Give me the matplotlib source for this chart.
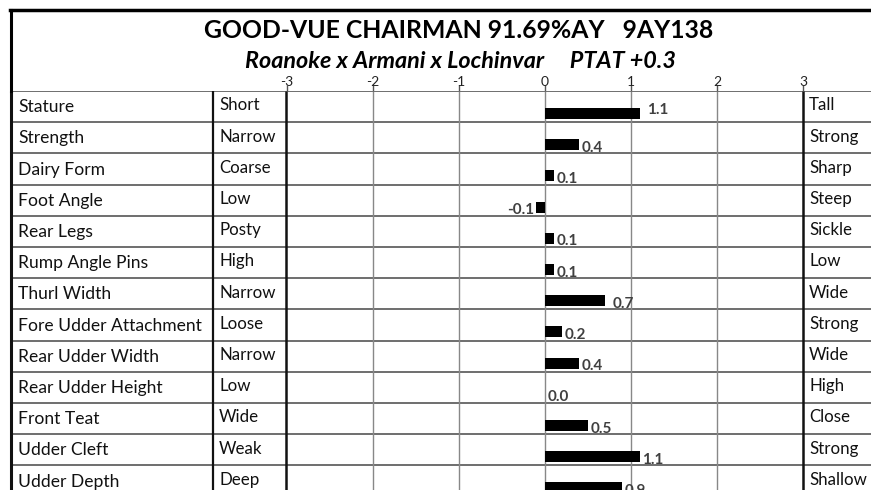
import matplotlib
matplotlib.use('Agg')
import matplotlib.pyplot as plt

plt.rcParams['font.family'] = ['Lato', 'DejaVu Sans']

# data
traits = ['Stature', 'Strength', 'Dairy Form', 'Foot Angle', 'Rear Legs',
          'Rump Angle Pins', 'Thurl Width', 'Fore Udder Attachment',
          'Rear Udder Width', 'Rear Udder Height', 'Front Teat',
          'Udder Cleft', 'Udder Depth']
low_labels = ['Short', 'Narrow', 'Coarse', 'Low', 'Posty', 'High', 'Narrow',
              'Loose', 'Narrow', 'Low', 'Wide', 'Weak', 'Deep']
high_labels = ['Tall', 'Strong', 'Sharp', 'Steep', 'Sickle', 'Low', 'Wide',
               'Strong', 'Wide', 'High', 'Close', 'Strong', 'Shallow']
values = [1.1, 0.4, 0.1, -0.1, 0.1, 0.1, 0.7, 0.2, 0.4, 0.0, 0.5, 1.1, 0.9]
ticks = [-3, -2, -1, 0, 1, 2, 3]

title = 'GOOD-VUE CHAIRMAN 91.69%AY   9AY138'
subtitle = 'Roanoke x Armani x Lochinvar     PTAT +0.3'

# layout (pixels)
W, H = 871, 490
row_top = 91
row_h = 31.2
n_vis = (H - row_top) / row_h

fig = plt.figure(figsize=(W / 100, H / 100), dpi=100)

# background table axes (x in pixels, y in rows)
bg = fig.add_axes([0, 0, 1, (H - row_top) / H])
bg.set_xlim(0, W)
bg.set_ylim(n_vis, 0)
bg.axis('off')

# chart axes
ax = fig.add_axes([287 / W, 0, 516 / W, (H - row_top) / H])
ax.set_xlim(-3, 3)
ax.set_ylim(n_vis, 0)
ax.patch.set_alpha(0)
for s in ax.spines.values():
    s.set_visible(False)
ax.xaxis.tick_top()
ax.set_xticks(ticks)
ax.set_xticklabels([str(t) for t in ticks], fontsize=10, color='#222222')
ax.tick_params(axis='x', length=4, width=1, color='#555555', pad=-2)
ax.set_yticks([])
for t in ticks[1:-1]:
    ax.axvline(t, color='#888888', lw=1, zorder=1)

# table lines
for i in range(len(traits)):
    bg.plot([10, W], [i, i], color='#555555', lw=1.2, solid_capstyle='butt')
for x, lw in [(11, 2.2), (213, 1.6), (286, 1.8), (803, 1.8)]:
    bg.plot([x, x], [0, n_vis], color='#111111', lw=lw, solid_capstyle='butt')
fig.add_artist(plt.Line2D([10 / W, 1], [1 - 10 / H, 1 - 10 / H], color='black', lw=2.5))
fig.add_artist(plt.Line2D([11 / W, 11 / W], [1 - 10 / H, 1 - row_top / H], color='black', lw=2.2))

# row texts
for i in range(len(traits)):
    yc = i + 0.52
    bg.text(18, yc, traits[i], fontsize=12.6, va='center', ha='left', color='#111111')
    bg.text(219, yc - 0.06, low_labels[i], fontsize=12.2, va='center', ha='left', color='#111111')
    bg.text(809, yc - 0.06, high_labels[i], fontsize=12.2, va='center', ha='left', color='#111111')

# bars
ypos = [i + 0.72 for i in range(len(values))]
ax.barh(ypos, values, height=0.35, color='black', zorder=3)
for i, v in enumerate(values):
    dy = -0.12 if i == 0 else 0.1
    dx = 0.09 if i in (0, 6) else 0.03
    if v < 0:
        ax.text(v - 0.03, ypos[i] + dy, f'{v:.1f}', ha='right', va='center',
                fontsize=11, fontweight='bold', color='#404040', zorder=4)
    else:
        ax.text(v + dx, ypos[i] + dy, f'{v:.1f}', ha='left', va='center',
                fontsize=11, fontweight='bold', color='#404040', zorder=4)

# titles
fig.text(459 / W, 1 - 30 / H, title, ha='center', va='center', fontsize=17.8,
         fontweight='bold', color='black')
fig.text(460 / W, 1 - 61 / H, subtitle, ha='center', va='center', fontsize=16.8,
         fontweight='bold', fontstyle='italic', color='black')

plt.savefig('out.png', dpi=100)
